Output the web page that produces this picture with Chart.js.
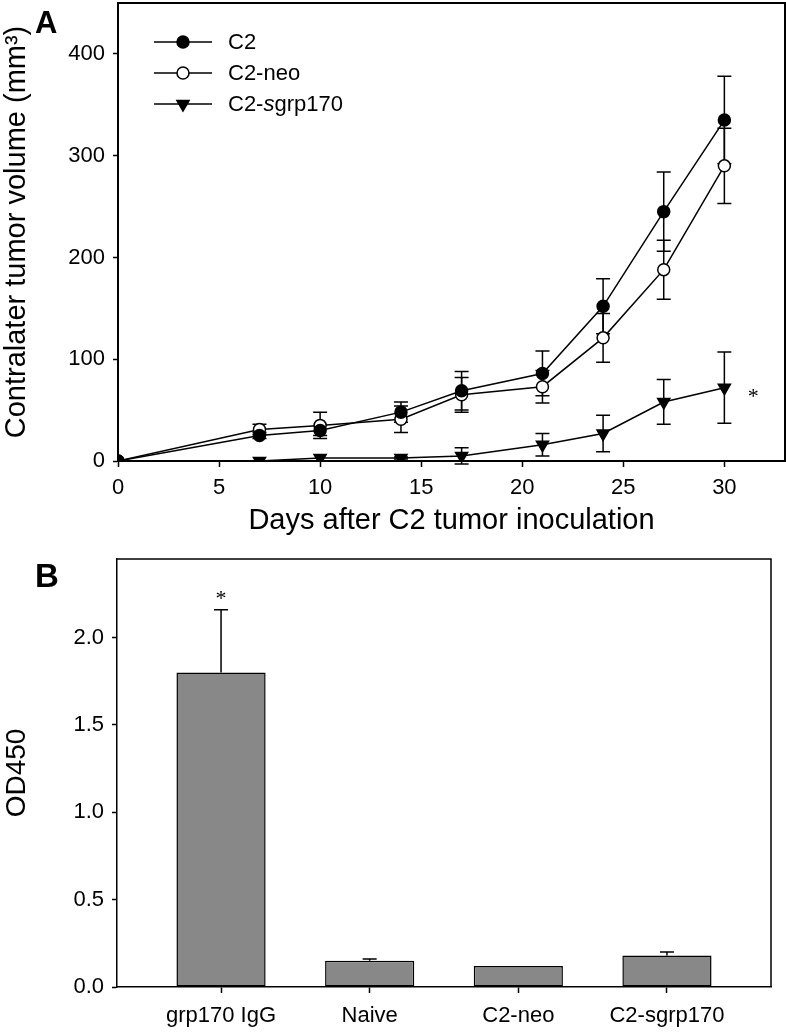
<!DOCTYPE html>
<html>
<head>
<meta charset="utf-8">
<script src="https://cdn.jsdelivr.net/npm/chart.js@4.4.0/dist/chart.umd.min.js"></script>
<style>
  body { margin: 0; background: #fff; }
  canvas { position: absolute; left: 0; }
  #panelA { top: 0; }
  #panelB { top: 540px; }
</style>
</head>
<body>
<canvas id="panelA" width="786" height="540"></canvas>
<canvas id="panelB" width="786" height="492"></canvas>
<script>
// Panel A data
const days = [0, 7, 10, 14, 17, 21, 24, 27, 30];
const seriesNames = ['C2', 'C2-neo', 'C2-sgrp170'];
const c2 = [0, 25, 30, 48, 69, 86, 152, 245, 335];
const c2Err = [0, 3, 5, 10, 19, 22, 27, 39, 43];
const c2neo = [0, 31, 35, 41, 65, 73, 121, 188, 290];
const c2neoErr = [0, 5, 13, 13, 17, 16, 24, 29, 37];
const c2sgrp = [null, 0, 3, 3, 5, 16, 27, 58, 72];
const c2sgrpErr = [0, 0, 0, 1, 8, 11, 18, 22, 35];
const dayTicks = [0, 5, 10, 15, 20, 25, 30];
const volumeTicks = [0, 100, 200, 300, 400];

// Panel B data
const groups = ['grp170 IgG', 'Naive', 'C2-neo', 'C2-sgrp170'];
const od450 = [1.80, 0.15, 0.12, 0.18];
const od450Err = [0.36, 0.01, 0, 0.02];
const odTicks = [0, 0.5, 1.0, 1.5, 2.0];

Chart.defaults.font.family = '"Liberation Sans", Arial, sans-serif';
Chart.defaults.color = '#000';

const toPoints = vals => days.map((d, i) => ({ x: d, y: vals[i] }));

// fixed axis sizes, no extra padding for edge labels
const fixSize = (w, h) => s => {
    if (w !== null) s.width = w;
    if (h !== null) s.height = h;
    s.paddingTop = s.paddingBottom = s.paddingLeft = s.paddingRight = 0;
};

// box around the plot area (top + right sides)
const boxPlugin = {
    id: 'box',
    afterDraw(chart, args, opts) {
        const { ctx, chartArea: a } = chart;
        ctx.save();
        ctx.strokeStyle = '#000';
        ctx.lineWidth = opts.width || 2;
        ctx.beginPath();
        ctx.moveTo(a.left, a.top);
        ctx.lineTo(a.right, a.top);
        ctx.lineTo(a.right, a.bottom);
        ctx.stroke();
        ctx.restore();
    }
};

// error bars for the line chart, drawn below the markers
const lineErrors = {
    id: 'lineErrors',
    beforeDatasetsDraw(chart) {
        const { ctx, scales: { x, y } } = chart;
        ctx.save();
        ctx.strokeStyle = '#000';
        ctx.lineWidth = 1.5;
        chart.data.datasets.forEach(ds => {
            ds.data.forEach((p, i) => {
                const e = ds.errors[i];
                if (p.y === null || !e) return;
                const px = x.getPixelForValue(p.x);
                const yt = y.getPixelForValue(p.y + e);
                const yb = y.getPixelForValue(p.y - e);
                ctx.beginPath();
                ctx.moveTo(px, yt); ctx.lineTo(px, yb);
                ctx.moveTo(px - 7, yt); ctx.lineTo(px + 7, yt);
                ctx.moveTo(px - 7, yb); ctx.lineTo(px + 7, yb);
                ctx.stroke();
            });
        });
        ctx.restore();
    },
    afterDraw(chart) {
        const { ctx } = chart;
        ctx.save();
        // panel letter
        ctx.font = 'bold 31px "Liberation Sans", Arial, sans-serif';
        ctx.fillStyle = '#000';
        ctx.textBaseline = 'alphabetic';
        ctx.fillText('A', 35, 33);

        // legend
        const rowY = [42, 73, 104];
        chart.data.datasets.forEach((ds, i) => {
            const yy = rowY[i];
            ctx.strokeStyle = '#000';
            ctx.lineWidth = 1.5;
            ctx.beginPath();
            ctx.moveTo(154, yy); ctx.lineTo(212, yy);
            ctx.stroke();
            ctx.fillStyle = ds.pointBackgroundColor;
            ctx.strokeStyle = '#000';
            Chart.helpers.drawPoint(ctx, {
                pointStyle: ds.pointStyle, radius: ds.pointRadius,
                rotation: ds.pointRotation || 0, borderWidth: 1.5
            }, 183, yy);
            ctx.fillStyle = '#000';
            ctx.textBaseline = 'middle';
            const base = '22px "Liberation Sans", Arial, sans-serif';
            const m = ds.label.match(/^(C2-)(s)(grp.*)$/);
            let tx = 228;
            if (m) {
                ctx.font = base;
                ctx.fillText(m[1], tx, yy + 1);
                tx += ctx.measureText(m[1]).width;
                ctx.font = 'italic ' + base;
                ctx.fillText(m[2], tx, yy + 1);
                tx += ctx.measureText(m[2]).width;
                ctx.font = base;
                ctx.fillText(m[3], tx, yy + 1);
            } else {
                ctx.font = base;
                ctx.fillText(ds.label, tx, yy + 1);
            }
        });

        // significance mark next to the last C2-sgrp170 point
        const meta = chart.getDatasetMeta(2);
        const last = meta.data[meta.data.length - 1];
        ctx.font = '22px "Liberation Serif", serif';
        ctx.textAlign = 'center';
        ctx.textBaseline = 'middle';
        ctx.fillText('*', last.x + 29, last.y + 9);
        ctx.restore();
    }
};

new Chart(document.getElementById('panelA'), {
    type: 'line',
    data: {
        datasets: [
            { label: seriesNames[0], data: toPoints(c2), errors: c2Err,
              pointStyle: 'circle', pointRadius: 6, pointBackgroundColor: '#000' },
            { label: seriesNames[1], data: toPoints(c2neo), errors: c2neoErr,
              pointStyle: 'circle', pointRadius: 6, pointBackgroundColor: '#fff' },
            { label: seriesNames[2], data: toPoints(c2sgrp), errors: c2sgrpErr,
              pointStyle: 'triangle', pointRadius: 7, pointRotation: 180, pointBackgroundColor: '#000' }
        ].map(ds => Object.assign(ds, {
            borderColor: '#000', borderWidth: 1.5, pointBorderColor: '#000',
            pointBorderWidth: 1.5, tension: 0, fill: false
        }))
    },
    options: {
        responsive: false,
        animation: false,
        devicePixelRatio: 1,
        layout: { autoPadding: false, padding: { top: 3, right: 1, left: 0, bottom: 0 } },
        plugins: { legend: { display: false }, tooltip: { enabled: false }, box: { width: 2 } },
        scales: {
            x: {
                type: 'linear', min: 0, max: 33,
                afterBuildTicks: s => { s.ticks = dayTicks.map(v => ({ value: v })); },
                afterFit: fixSize(null, 79),
                grid: { drawOnChartArea: false, tickLength: 6, tickColor: '#000', tickWidth: 1.5 },
                border: { display: true, color: '#000', width: 2 },
                ticks: { font: { size: 22 }, padding: 8, maxRotation: 0 },
                title: { display: true, text: 'Days after C2 tumor inoculation',
                         font: { size: 29 }, padding: { top: 0, bottom: 2 } }
            },
            y: {
                min: 0, max: 450,
                afterBuildTicks: s => { s.ticks = volumeTicks.map(v => ({ value: v })); },
                afterFit: fixSize(118, null),
                grid: { drawOnChartArea: false, tickLength: 5, tickColor: '#000', tickWidth: 1.5 },
                border: { display: true, color: '#000', width: 2 },
                ticks: { font: { size: 22 }, padding: 8 },
                title: { display: true, text: 'Contralater tumor volume (mm³)',
                         font: { size: 29 }, padding: { top: 0, bottom: 17 } }
            }
        }
    },
    plugins: [lineErrors, boxPlugin]
});

// one-sided error bars for the bar chart
const barErrors = {
    id: 'barErrors',
    afterDatasetsDraw(chart) {
        const { ctx, scales: { y } } = chart;
        const meta = chart.getDatasetMeta(0);
        ctx.save();
        ctx.strokeStyle = '#000';
        ctx.lineWidth = 1.5;
        meta.data.forEach((bar, i) => {
            const e = od450Err[i];
            if (!e) return;
            const yt = y.getPixelForValue(od450[i] + e);
            ctx.beginPath();
            ctx.moveTo(bar.x, bar.y); ctx.lineTo(bar.x, yt);
            ctx.moveTo(bar.x - 7, yt); ctx.lineTo(bar.x + 7, yt);
            ctx.stroke();
        });
        // significance mark above the first bar
        const first = meta.data[0];
        const capY = y.getPixelForValue(od450[0] + od450Err[0]);
        ctx.fillStyle = '#000';
        ctx.font = '22px "Liberation Serif", serif';
        ctx.textAlign = 'center';
        ctx.textBaseline = 'middle';
        ctx.fillText('*', first.x, capY - 10);
        ctx.font = 'bold 33px "Liberation Sans", Arial, sans-serif';
        ctx.textAlign = 'left';
        ctx.textBaseline = 'alphabetic';
        ctx.fillText('B', 35, 47);
        ctx.restore();
    }
};

new Chart(document.getElementById('panelB'), {
    type: 'bar',
    data: {
        datasets: [{
            data: groups.map((g, i) => ({ x: i, y: od450[i] })),
            backgroundColor: '#888888',
            borderColor: '#000',
            borderWidth: 1.5,
            borderSkipped: false,
            categoryPercentage: 1,
            barPercentage: 0.6
        }]
    },
    options: {
        responsive: false,
        animation: false,
        devicePixelRatio: 1,
        layout: { autoPadding: false, padding: { top: 19, right: 15, left: 0, bottom: 0 } },
        plugins: { legend: { display: false }, tooltip: { enabled: false }, box: { width: 1.5 } },
        scales: {
            x: {
                type: 'linear', min: -0.7, max: 3.7, offset: false,
                afterBuildTicks: s => { s.ticks = groups.map((g, i) => ({ value: i })); },
                afterFit: fixSize(null, 45),
                grid: { drawOnChartArea: false, offset: false, tickLength: 6, tickColor: '#000', tickWidth: 1.5 },
                border: { display: true, color: '#000', width: 1.5 },
                ticks: { font: { size: 22 }, padding: 10, maxRotation: 0,
                         callback: v => groups[v] }
            },
            y: {
                min: 0, max: 2.45,
                afterBuildTicks: s => { s.ticks = odTicks.map(v => ({ value: v })); },
                afterFit: fixSize(117, null),
                grid: { drawOnChartArea: false, tickLength: 5, tickColor: '#000', tickWidth: 1.5 },
                border: { display: true, color: '#000', width: 1.5 },
                ticks: { font: { size: 22 }, padding: 8, callback: v => v.toFixed(1) },
                title: { display: true, text: 'OD450', font: { size: 28 },
                         padding: { top: 0, bottom: 17 } }
            }
        }
    },
    plugins: [barErrors, boxPlugin]
});
</script>
</body>
</html>
